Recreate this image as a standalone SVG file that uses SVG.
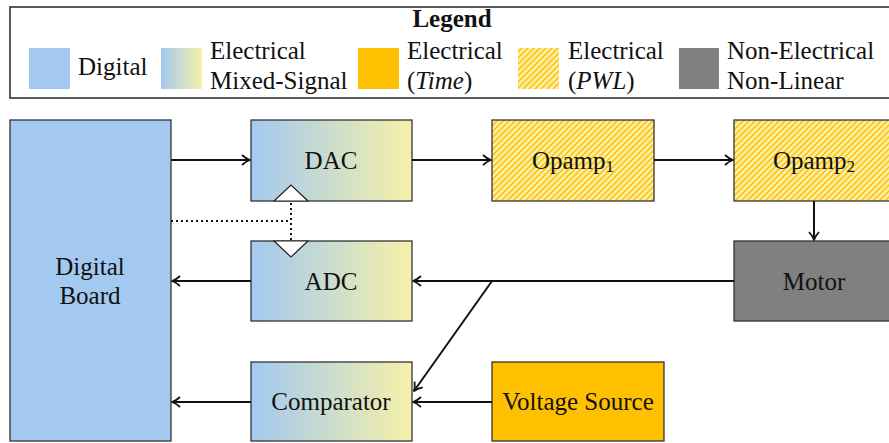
<svg xmlns="http://www.w3.org/2000/svg" width="889" height="443" viewBox="0 0 889 443">
<style>
text{font-family:'Liberation Serif','Times New Roman',Times,serif;font-size:25px;fill:#111}
.c{text-anchor:middle}
.box{stroke:#333;stroke-width:1.3}
.dig{fill:#A3C9F1}
.mix{fill:url(#mixg)}
.time{fill:#FFC000}
.pwl{fill:url(#hatch)}
.nl{fill:#808080}
.conn{stroke:#111;stroke-width:2;fill:none;marker-end:url(#arr)}
.dot{stroke:#111;stroke-width:2;fill:none;stroke-dasharray:2,3}
.tri{fill:#fff;stroke:#222;stroke-width:1.2}
</style>
<defs>
<linearGradient id="mixg" x1="0" y1="0" x2="1" y2="0">
<stop offset="0" stop-color="#A3C9F1"/>
<stop offset="1" stop-color="#F6F1A9"/>
</linearGradient>
<pattern id="hatch" patternUnits="userSpaceOnUse" width="6" height="6">
<rect width="6" height="6" fill="#FBEFA6"/>
<path d="M-1,1 L1,-1 M0,6 L6,0 M5,7 L7,5" stroke="#FFC000" stroke-width="1.5"/>
</pattern>
<marker id="arr" markerUnits="userSpaceOnUse" viewBox="-10 -6 11 12" refX="0" refY="0" markerWidth="11" markerHeight="12" orient="auto">
<path d="M-8,-5 C-5,-2.2 -2,-0.6 0,0 C-2,0.6 -5,2.2 -8,5" stroke="#111" stroke-width="1.8" fill="none" stroke-linejoin="round"/>
</marker>
</defs>
<rect width="889" height="443" fill="#fff"/>

<g font-family="Liberation Serif, Times New Roman, serif">
<g id="legend">
<rect x="10" y="7" width="885" height="91" fill="#fff" stroke="#333" stroke-width="1.6"/>
<text x="452" y="27" class="c" font-weight="bold">Legend</text>
<rect x="29" y="48" width="41" height="41" class="dig"/>
<text x="78" y="75">Digital</text>
<rect x="161" y="48" width="41" height="41" class="mix"/>
<text x="210" y="59">Electrical</text>
<text x="210" y="89">Mixed-Signal</text>
<rect x="358" y="48" width="41" height="41" class="time"/>
<text x="407" y="59">Electrical</text>
<text x="407" y="89">(<tspan font-style="italic">Time</tspan>)</text>
<rect x="518" y="48" width="41" height="41" class="pwl"/>
<text x="568" y="59">Electrical</text>
<text x="568" y="89">(<tspan font-style="italic">PWL</tspan>)</text>
<rect x="679" y="48" width="40" height="41" class="nl"/>
<text x="727" y="59">Non-Electrical</text>
<text x="727" y="89">Non-Linear</text>
</g>

<g id="digital-board">
<rect x="10" y="120" width="161" height="321" class="box dig"/>
<text x="90" y="275" class="c">Digital</text>
<text x="90" y="304" class="c">Board</text>
</g>
<g id="dac">
<rect x="251" y="120" width="161" height="81" class="box mix"/>
<text x="331" y="169" class="c">DAC</text>
</g>
<g id="adc">
<rect x="251" y="241" width="161" height="80" class="box mix"/>
<text x="331" y="290" class="c">ADC</text>
</g>
<g id="comparator">
<rect x="251" y="362" width="161" height="79" class="box mix"/>
<text x="331" y="410" class="c">Comparator</text>
</g>
<g id="opamp1">
<rect x="492" y="120" width="162" height="81" class="box pwl"/>
<text x="573" y="169" class="c">Opamp<tspan font-size="17" dy="3">1</tspan></text>
</g>
<g id="opamp2">
<rect x="734" y="120" width="161" height="81" class="box pwl"/>
<text x="814" y="169" class="c">Opamp<tspan font-size="17" dy="3">2</tspan></text>
</g>
<g id="motor">
<rect x="734" y="241" width="161" height="80" class="box nl"/>
<text x="814" y="290" class="c">Motor</text>
</g>
<g id="voltage-source">
<rect x="492" y="362" width="172" height="79" class="box time"/>
<text x="578" y="410" class="c">Voltage Source</text>
</g>
</g>

<g id="connectors">
<line x1="171" y1="160" x2="250" y2="160" class="conn"/>
<line x1="412" y1="160" x2="491" y2="160" class="conn"/>
<line x1="654" y1="160" x2="733" y2="160" class="conn"/>
<line x1="814" y1="201" x2="814" y2="240" class="conn"/>
<line x1="734" y1="281" x2="413" y2="281" class="conn"/>
<line x1="251" y1="281" x2="172" y2="281" class="conn"/>
<line x1="492" y1="281" x2="414" y2="391" class="conn"/>
<line x1="492" y1="402" x2="413" y2="402" class="conn"/>
<line x1="251" y1="402" x2="172" y2="402" class="conn"/>
<path d="M171,221 H291 M291,203 V241" class="dot"/>
<polygon points="274,201 291,185 308,201" class="tri"/>
<polygon points="274,241 291,257 308,241" class="tri"/>
</g>
</svg>
